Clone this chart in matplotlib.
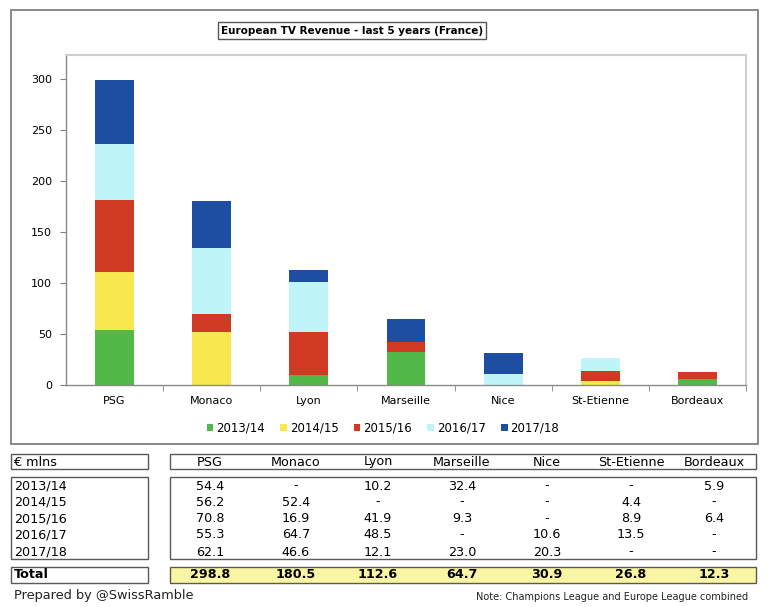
import matplotlib

matplotlib.use("Agg")
import matplotlib.pyplot as plt
from matplotlib.patches import Patch, Rectangle

W, H = 767, 607

clubs = ["PSG", "Monaco", "Lyon", "Marseille", "Nice", "St-Etienne", "Bordeaux"]
seasons = ["2013/14", "2014/15", "2015/16", "2016/17", "2017/18"]

# None = "-" in the table (no European TV money that season)
rev_2013_14 = [54.4, None, 10.2, 32.4, None, None, 5.9]
rev_2014_15 = [56.2, 52.4, None, None, None, 4.4, None]
rev_2015_16 = [70.8, 16.9, 41.9, 9.3, None, 8.9, 6.4]
rev_2016_17 = [55.3, 64.7, 48.5, None, 10.6, 13.5, None]
rev_2017_18 = [62.1, 46.6, 12.1, 23.0, 20.3, None, None]
totals = [298.8, 180.5, 112.6, 64.7, 30.9, 26.8, 12.3]

season_colors = ["#52b848", "#f8e84e", "#d03a22", "#bff4f9", "#1d4ea2"]


def fx(px):
    return px / W


def fy(py):
    return 1 - py / H


def add_box(fig, x0, y0, x1, y1, edgecolor="#595959", facecolor=None, lw=1.0):
    rect = Rectangle(
        (fx(x0), fy(y1)),
        fx(x1) - fx(x0),
        fy(y0) - fy(y1),
        transform=fig.transFigure,
        fill=facecolor is not None,
        facecolor=facecolor if facecolor else "none",
        edgecolor=edgecolor,
        linewidth=lw,
        zorder=0,
    )
    fig.patches.append(rect)


def draw_chart(fig):
    add_box(fig, 11, 10, 758, 444, edgecolor="#808080", lw=1.3)

    ax = fig.add_axes([fx(66), fy(385), fx(746) - fx(66), fy(55) - fy(385)])
    series = [rev_2013_14, rev_2014_15, rev_2015_16, rev_2016_17, rev_2017_18]
    x = list(range(len(clubs)))
    bottom = [0.0] * len(clubs)
    for values, color in zip(series, season_colors):
        vals = [v if v is not None else 0.0 for v in values]
        ax.bar(x, vals, bottom=bottom, width=0.4, color=color, linewidth=0)
        bottom = [b + v for b, v in zip(bottom, vals)]

    ax.set_xlim(-0.5, len(clubs) - 0.5)
    ax.set_ylim(0, 323.5)
    ax.set_yticks(range(0, 301, 50))
    ax.set_xticks(x)
    ax.set_xticklabels(clubs, fontsize=8)
    ax.set_xticks([i + 0.5 for i in range(len(clubs))], minor=True)
    ax.tick_params(axis="x", which="major", length=0, pad=8)
    ax.tick_params(axis="x", which="minor", length=4, color="#808080")
    ax.tick_params(axis="y", length=4, color="#808080", labelsize=8, pad=6)
    for side in ("top", "right"):
        ax.spines[side].set_color("#cfcfcf")
        ax.spines[side].set_linewidth(1.5)
    for side in ("left", "bottom"):
        ax.spines[side].set_color("#8a8a8a")
        ax.spines[side].set_linewidth(1.0)

    fig.text(
        fx(352), fy(30.5),
        "European TV Revenue - last 5 years (France)",
        ha="center", va="center", fontsize=7.5, fontweight="bold",
        bbox={"boxstyle": "square,pad=0.3", "facecolor": "white", "edgecolor": "#555555", "linewidth": 1.0},
    )

    handles = [Patch(facecolor=c, edgecolor="none", label=s) for s, c in zip(seasons, season_colors)]
    fig.legend(
        handles=handles, loc="center", bbox_to_anchor=(fx(383), fy(428)), ncol=5,
        frameon=False, fontsize=8.5, handlelength=0.55, handleheight=0.55,
        handletextpad=0.25, columnspacing=1.3,
    )


def fmt(v):
    return "-" if v is None else "{:.1f}".format(v)


def draw_table(fig):
    col_x = [210, 296, 378, 462, 547, 631, 714]
    row_y = [486, 502, 519, 535, 552]
    fs = 9.2

    add_box(fig, 11, 454, 148, 469)
    add_box(fig, 170, 454, 756, 469)
    add_box(fig, 11, 477, 148, 559)
    add_box(fig, 170, 477, 756, 559)
    add_box(fig, 11, 567, 148, 583)
    add_box(fig, 170, 567, 756, 583, facecolor="#fbf6a4")

    fig.text(fx(14), fy(462), "€ mlns", ha="left", va="center", fontsize=fs)
    for cx, club in zip(col_x, clubs):
        fig.text(fx(cx), fy(462), club, ha="center", va="center", fontsize=fs)

    rows = [rev_2013_14, rev_2014_15, rev_2015_16, rev_2016_17, rev_2017_18]
    for ry, season, values in zip(row_y, seasons, rows):
        fig.text(fx(14), fy(ry), season, ha="left", va="center", fontsize=fs)
        for cx, v in zip(col_x, values):
            fig.text(fx(cx), fy(ry), fmt(v), ha="center", va="center", fontsize=fs)

    fig.text(fx(14), fy(575), "Total", ha="left", va="center", fontsize=fs, fontweight="bold")
    for cx, v in zip(col_x, totals):
        fig.text(fx(cx), fy(575), fmt(v), ha="center", va="center", fontsize=fs, fontweight="bold")

    fig.text(fx(14), fy(596), "Prepared by @SwissRamble", ha="left", va="center", fontsize=9.3, color="#222222")
    fig.text(fx(748), fy(597), "Note: Champions League and Europe League combined",
             ha="right", va="center", fontsize=7, color="#222222")


def main():
    fig = plt.figure(figsize=(W / 100, H / 100), dpi=100)
    draw_chart(fig)
    draw_table(fig)
    fig.savefig("out.png", dpi=100, facecolor="white")
    plt.close(fig)


if __name__ == "__main__":
    main()
